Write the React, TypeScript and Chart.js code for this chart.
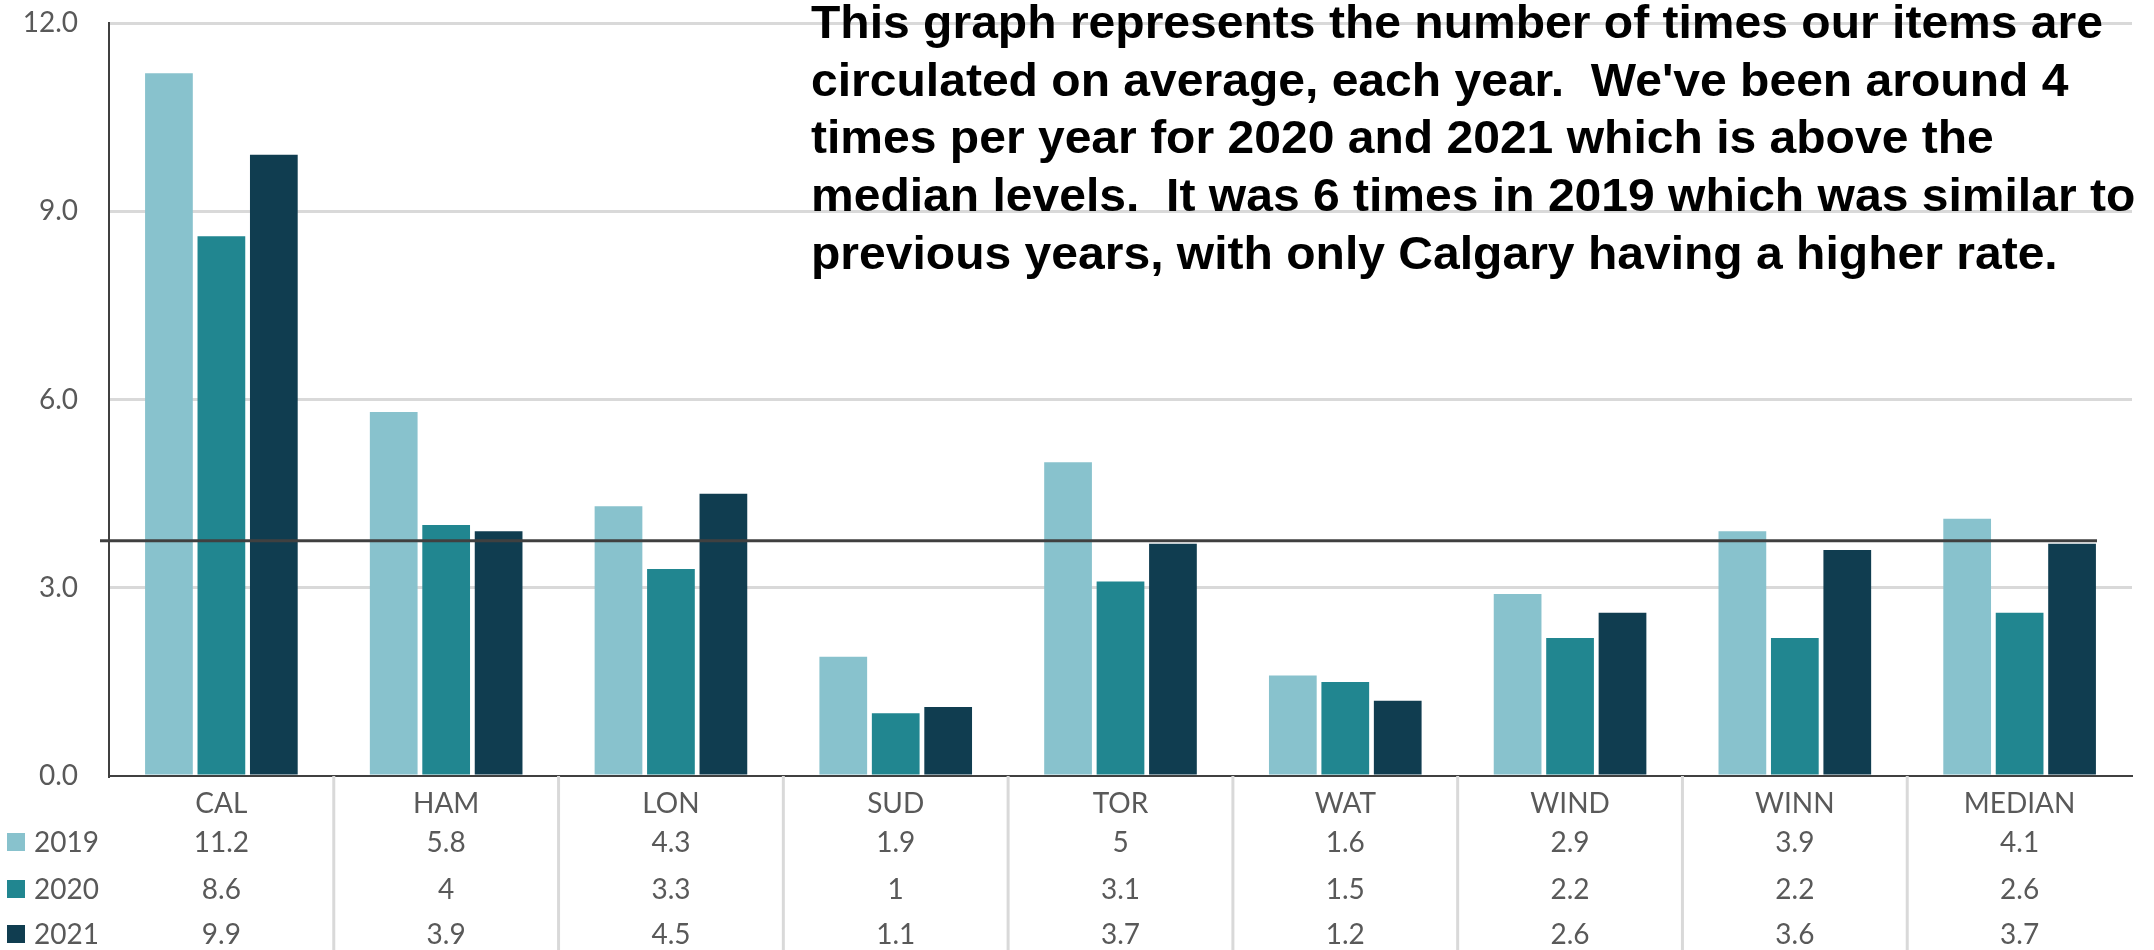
import React, { useEffect, useRef } from "react";
import { Chart, registerables } from "chart.js";

Chart.register(...registerables);

const categories = ["CAL", "HAM", "LON", "SUD", "TOR", "WAT", "WIND", "WINN", "MEDIAN"];
const seriesNames = ["2019", "2020", "2021"];
const values2019 = [11.2, 5.8, 4.3, 1.9, 5, 1.6, 2.9, 3.9, 4.1];
const values2020 = [8.6, 4, 3.3, 1, 3.1, 1.5, 2.2, 2.2, 2.6];
const values2021 = [9.9, 3.9, 4.5, 1.1, 3.7, 1.2, 2.6, 3.6, 3.7];
const seriesValues = [values2019, values2020, values2021];
const seriesColors = ["#88C2CD", "#218690", "#103D50"];
const yMin = 0;
const yMax = 12;
const yStep = 3;
const referenceLine = 3.75;
const noteLines = [
  "This graph represents the number of times our items are",
  "circulated on average, each year.  We've been around 4",
  "times per year for 2020 and 2021 which is above the",
  "median levels.  It was 6 times in 2019 which was similar to",
  "previous years, with only Calgary having a higher rate.",
];

const TEXT_GREY = "#595959";
const GRID_GREY = "#D9D9D9";
const AXIS_DARK = "#404040";
const FONT = "Lato";
const FONT_SIZE = 28;

const overlayPlugin = {
  id: "overlay",
  afterDatasetsDraw(chart: any) {
    const { ctx, chartArea } = chart;
    const y = chart.scales.y;
    const py = y.getPixelForValue(referenceLine);
    ctx.save();
    ctx.strokeStyle = AXIS_DARK;
    ctx.lineWidth = 3;
    ctx.beginPath();
    ctx.moveTo(chartArea.left - 9, py);
    ctx.lineTo(chartArea.right - 35, py);
    ctx.stroke();
    ctx.restore();
  },
  afterDraw(chart: any) {
    const { ctx, chartArea } = chart;
    const x = chart.scales.x;
    const H = chart.height;
    ctx.save();
    // table separators
    ctx.strokeStyle = GRID_GREY;
    ctx.lineWidth = 3;
    for (let i = 1; i < categories.length; i++) {
      const px = (x.getPixelForValue(i - 1) + x.getPixelForValue(i)) / 2;
      ctx.beginPath();
      ctx.moveTo(px, chartArea.bottom);
      ctx.lineTo(px, H);
      ctx.stroke();
    }
    // table rows
    const rowOffsets = [66, 113, 158];
    ctx.font = `${FONT_SIZE}px ${FONT}`;
    ctx.textBaseline = "middle";
    seriesValues.forEach((vals, r) => {
      const ry = chartArea.bottom + rowOffsets[r];
      ctx.fillStyle = seriesColors[r];
      ctx.fillRect(7, ry - 9, 18, 18);
      ctx.fillStyle = TEXT_GREY;
      ctx.textAlign = "left";
      ctx.fillText(seriesNames[r], 34, ry + 1);
      ctx.textAlign = "center";
      vals.forEach((v, i) => {
        ctx.fillText(String(v), x.getPixelForValue(i), ry + 1);
      });
    });
    // note text
    ctx.fillStyle = "#000000";
    ctx.font = `bold 46px "Liberation Sans"`;
    ctx.textAlign = "left";
    ctx.textBaseline = "alphabetic";
    const w0 = ctx.measureText(noteLines[0]).width;
    const sx = 1292 / w0;
    noteLines.forEach((line, i) => {
      ctx.save();
      ctx.translate(811, 38 + i * 57.7);
      ctx.scale(sx, 1);
      ctx.fillText(line, 0, 0);
      ctx.restore();
    });
    ctx.restore();
  },
};

export default function App() {
  const canvasRef = useRef<HTMLCanvasElement | null>(null);
  useEffect(() => {
    if (!canvasRef.current) return;
    const chart = new Chart(canvasRef.current, {
      type: "bar",
      data: {
        labels: categories,
        datasets: seriesNames.map((name, i) => ({
          label: name,
          data: seriesValues[i],
          backgroundColor: seriesColors[i],
          borderWidth: 0,
          categoryPercentage: 0.7,
          barPercentage: 0.91,
        })),
      },
      options: {
        animation: false,
        responsive: true,
        maintainAspectRatio: false,
        layout: { padding: { top: 23, right: 22, left: 0, bottom: 0 } },
        plugins: { legend: { display: false }, tooltip: { enabled: false } },
        scales: {
          x: {
            grid: { display: false },
            border: { color: AXIS_DARK, width: 2 },
            ticks: { color: TEXT_GREY, font: { family: FONT, size: FONT_SIZE }, padding: 3 },
            afterFit: (scale: any) => {
              scale.height = 174;
              scale.paddingLeft = 0;
              scale.paddingRight = 0;
            },
          },
          y: {
            min: yMin,
            max: yMax,
            ticks: {
              stepSize: yStep,
              color: TEXT_GREY,
              font: { family: FONT, size: FONT_SIZE },
              padding: 31,
              callback: (v: any) => Number(v).toFixed(1),
            },
            grid: {
              color: (c: any) => (c.tick && c.tick.value === 0 ? "rgba(0,0,0,0)" : GRID_GREY),
              lineWidth: 3,
              drawTicks: false,
            },
            border: { color: AXIS_DARK, width: 2 },
            afterFit: (scale: any) => {
              scale.width = 109;
              scale.paddingTop = 0;
              scale.paddingBottom = 0;
            },
          },
        },
      },
      plugins: [overlayPlugin],
    });
    return () => chart.destroy();
  }, []);
  return (
    <div style={{ position: "fixed", left: 0, top: 0, width: 2154, height: 950, background: "#fff" }}>
      <canvas ref={canvasRef} />
    </div>
  );
}
